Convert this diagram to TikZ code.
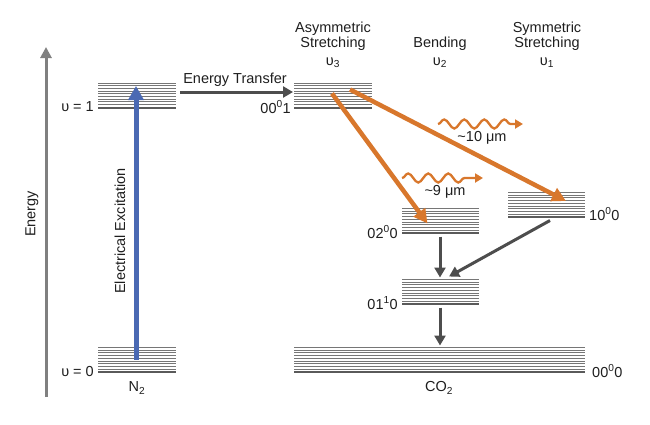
\documentclass[tikz,border=0pt]{standalone}
\usepackage{fontspec}
\setmainfont{Liberation Sans}
\usetikzlibrary{arrows.meta,decorations.pathmorphing,calc}
\definecolor{txt}{HTML}{1e1e1e}
\definecolor{axisgray}{HTML}{808080}
\definecolor{levgray}{HTML}{767676}
\definecolor{levdark}{HTML}{5a5a5a}
\definecolor{darrowc}{HTML}{4d4d4d}
\definecolor{bluec}{HTML}{4a69b3}
\definecolor{orangec}{HTML}{d8772c}
\begin{document}
\begin{tikzpicture}[x=1pt,y=-1pt,
  font=\fontsize{14.5}{16}\selectfont, text=txt,
  lev/.style={minimum width=#1, minimum height=25pt, inner sep=0pt, outer sep=0pt},
  levline/.style={levgray, line width=1pt},
  levbottom/.style={levdark, line width=2pt},
  lbl/.style={inner sep=0pt},
  darrow/.style={draw=darrowc, line width=3pt, -{Triangle[length=10pt,width=11pt]}},
  bluearrow/.style={draw=bluec, line width=5pt, -{Triangle[length=14pt,width=15pt]}},
  orangearrow/.style={draw=orangec, line width=4.5pt, -{Triangle[length=14pt,width=14pt]}},
  wave/.style={draw=orangec, line width=2.3pt, -{Triangle[length=8pt,width=9pt]},
    decorate, decoration={snake, amplitude=4.5pt, segment length=20pt, post length=9pt}},
  axisarrow/.style={draw=axisgray, line width=3pt, -{Triangle[length=11pt,width=11pt]}}
]
\useasboundingbox (0,0) rectangle (650,424);

% energy levels
\node[lev=78] (n2up) at (137,95.5) {};
\node[lev=78] (n2low) at (137,360) {};
\node[lev=78] (c001) at (333,95.5) {};
\node[lev=77] (c020) at (440.5,221) {};
\node[lev=77] (c100) at (546.5,205) {};
\node[lev=77] (c010) at (440.5,292) {};
\node[lev=291] (c000) at (439.5,360) {};
\foreach \n in {n2up,n2low,c001,c020,c100,c010,c000}{
  \foreach \k in {0,...,8}{
    \draw[levline] ($(\n.north west)+(0,\k*2.7)$) -- ($(\n.north east)+(0,\k*2.7)$);
  }
  \draw[levbottom] ($(\n.south west)+(0,-0.5)$) -- ($(\n.south east)+(0,-0.5)$);
}

% energy axis
\coordinate (ebot) at (46,397);
\coordinate (etop) at (46,47);
\draw[axisarrow] (ebot) -- (etop);
\node[lbl, rotate=90] (energy) at (32,214) {Energy};

% labels
\node[lbl, anchor=east] (v1) at (94,107) {υ = 1};
\node[lbl, anchor=east] (v0) at (94,371) {υ = 0};
\node[lbl] (n2) at (137,388) {N\textsubscript{2}};
\node[lbl] (co2) at (439,388) {CO\textsubscript{2}};
\node[lbl, anchor=east] (l001) at (291,107) {00\textsuperscript{0}1};
\node[lbl, anchor=east] (l020) at (398,232) {02\textsuperscript{0}0};
\node[lbl, anchor=east] (l010) at (398,303) {01\textsuperscript{1}0};
\node[lbl, anchor=west] (l100) at (589,214) {10\textsuperscript{0}0};
\node[lbl, anchor=west] (l000) at (592,371) {00\textsuperscript{0}0};

% headers
\node[lbl] (h1a) at (333,29) {Asymmetric};
\node[lbl] (h1b) at (333,44) {Stretching};
\node[lbl] (h1c) at (333,63) {υ\textsubscript{3}};
\node[lbl] (h2b) at (440,44) {Bending};
\node[lbl] (h2c) at (440,63) {υ\textsubscript{2}};
\node[lbl] (h3a) at (547,29) {Symmetric};
\node[lbl] (h3b) at (547,44) {Stretching};
\node[lbl] (h3c) at (547,63) {υ\textsubscript{1}};

% energy transfer
\draw[darrow] ($(n2up.east)+(4,-3.5)$) -- ($(c001.west)+(-1,-3.5)$);
\node[lbl] (et) at (235,80) {Energy Transfer};

% electrical excitation
\draw[bluearrow] ($(n2low.north)+(-1,12)$) -- ($(n2up.north)+(-1,3)$);
\node[lbl, rotate=90] (ee) at (120,231) {Electrical Excitation};

% laser transitions
\draw[orangearrow] ($(c001.north)+(-1,10.5)$) -- ($(c020.north)+(-13,15)$);
\draw[orangearrow] ($(c001.north)+(17,6.5)$) -- ($(c100.north)+(19.5,8.5)$);

% photons
\coordinate (w10s) at (438,124);
\coordinate (w10e) at (523,124);
\draw[wave] (w10s) -- (w10e);
\node[lbl] (w10l) at (482,138) {\textasciitilde10 μm};
\coordinate (w9s) at (402,178);
\coordinate (w9e) at (483,178);
\draw[wave] (w9s) -- (w9e);
\node[lbl] (w9l) at (445,192) {\textasciitilde9 μm};

% relaxation
\draw[darrow] ($(c020.south)+(-0.5,3)$) -- ($(c010.north)+(-0.5,-2)$);
\draw[darrow] ($(c100.south)+(3.5,3)$) -- ($(c010.north)+(8.5,-3)$);
\draw[darrow] ($(c010.south)+(-0.5,3)$) -- ($(c000.north)+(0.5,-2)$);
\end{tikzpicture}
\end{document}
